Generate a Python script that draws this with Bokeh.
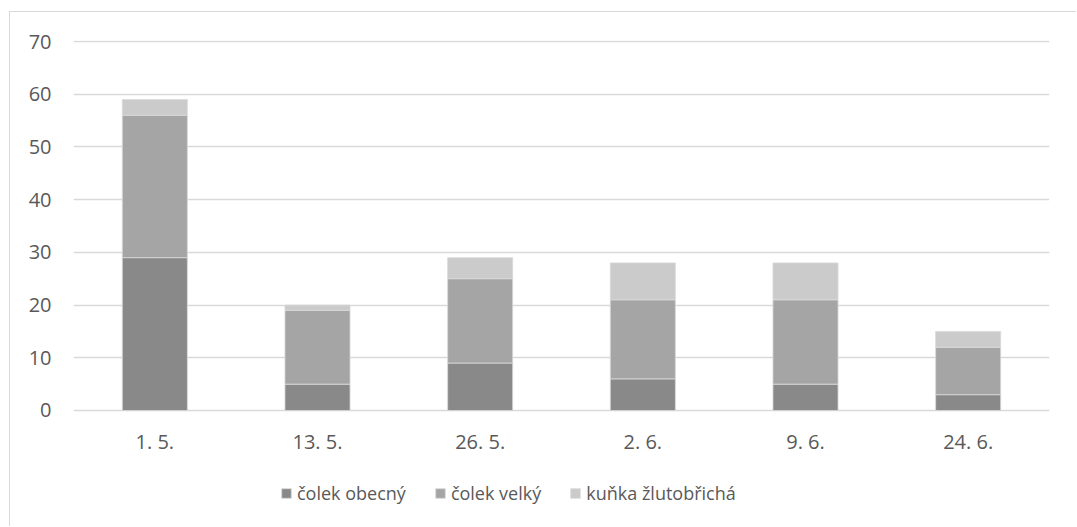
from bokeh.plotting import figure
from bokeh.models import ColumnDataSource, FactorRange, Range1d, Legend, LegendItem, FixedTicker, CategoricalAxis
from bokeh.embed import file_html
from bokeh.resources import INLINE

dates = ["1. 5.", "13. 5.", "26. 5.", "2. 6.", "9. 6.", "24. 6."]
series = ["čolek obecný", "čolek velký", "kuňka žlutobřichá"]
colek_obecny = [29, 5, 9, 6, 5, 3]
colek_velky = [27, 14, 16, 15, 16, 9]
kunka = [3, 1, 4, 7, 7, 3]
y_ticks = [0, 10, 20, 30, 40, 50, 60, 70]
colors = ["#898989", "#a5a5a5", "#cbcbcb"]

source = ColumnDataSource(data={
    "dates": dates,
    "čolek obecný": colek_obecny,
    "čolek velký": colek_velky,
    "kuňka žlutobřichá": kunka,
})

FONT = "Open Sans"
TXT = "#595959"

p = figure(x_range=FactorRange(*dates), y_range=Range1d(-22.2, 70.2),
           width=1067, height=515, output_backend="svg", toolbar_location=None,
           x_axis_location=None,
           min_border_left=63, min_border_right=28, min_border_top=28, min_border_bottom=0)
p.styles = {"margin-left": "9px", "margin-top": "11px",
            "border-left": "1px solid #d9d9d9", "border-top": "1px solid #d9d9d9"}

renderers = p.vbar_stack(series, x="dates", width=0.4, source=source,
                         fill_color=colors, line_color="#d9d9d9", line_width=0.8)

xaxis = CategoricalAxis(fixed_location=0)
p.add_layout(xaxis, "below")

p.outline_line_color = None
p.xgrid.grid_line_color = None
p.ygrid.grid_line_color = "#d9d9d9"
p.ygrid.grid_line_width = 1.5
p.yaxis.ticker = FixedTicker(ticks=y_ticks)
p.ygrid.ticker = FixedTicker(ticks=y_ticks)

for ax in (xaxis, p.yaxis[0]):
    ax.axis_line_color = None
    ax.major_tick_line_color = None
    ax.minor_tick_line_color = None
    ax.major_label_text_font = FONT
    ax.major_label_text_font_size = "20px"
    ax.major_label_text_color = TXT
p.yaxis.major_label_standoff = 16
xaxis.major_label_standoff = 12

legend = Legend(items=[LegendItem(label=s, renderers=[r]) for s, r in zip(series, renderers)],
                orientation="horizontal", location=(207, 22),
                label_text_font=FONT, label_text_font_size="18px", label_text_color=TXT,
                glyph_width=12, glyph_height=12, label_standoff=5, spacing=28,
                border_line_color=None, background_fill_alpha=0, padding=0, margin=0)
p.add_layout(legend, "center")

open("out.html", "w").write(file_html(p, INLINE))
